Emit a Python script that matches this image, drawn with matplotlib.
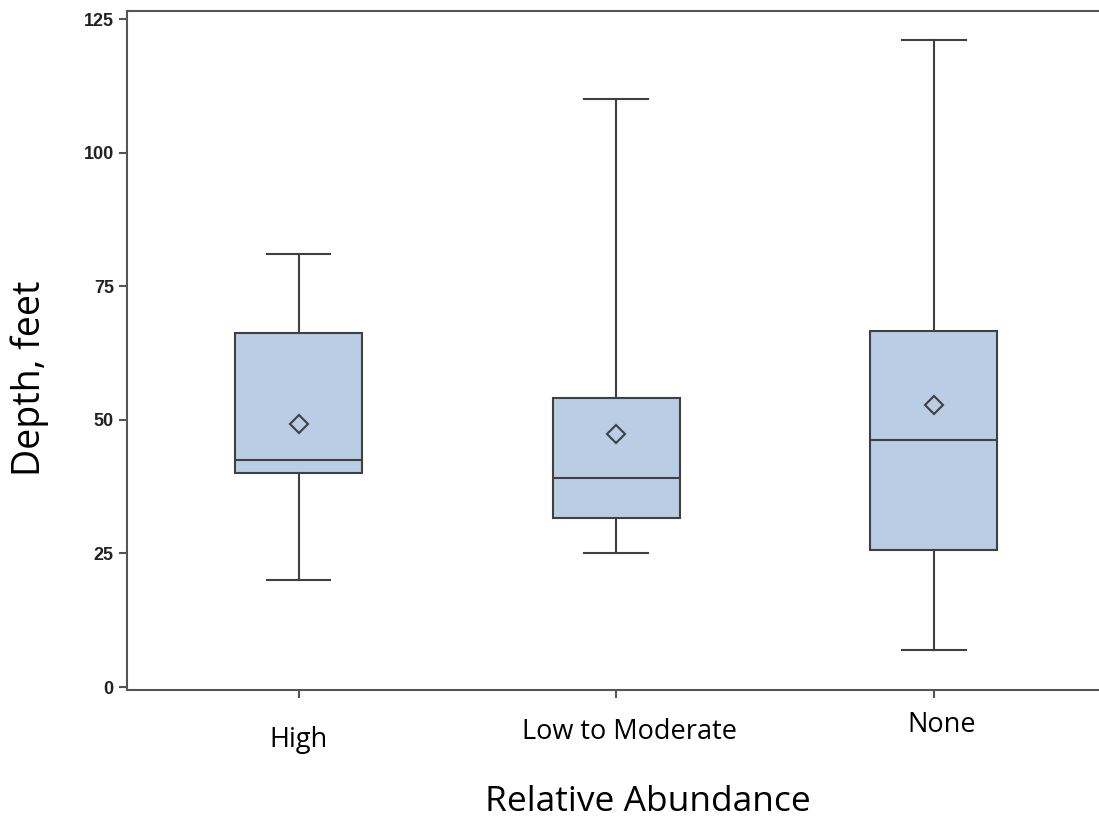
import matplotlib
matplotlib.use("Agg")
import matplotlib.pyplot as plt

categories = ["High", "Low to Moderate", "None"]
whislo = [20, 25, 7]
q1 = [40, 31.6, 25.6]
med = [42.5, 39.1, 46.2]
q3 = [66.2, 54.1, 66.6]
whishi = [81, 110, 121]
means = [49.2, 47.3, 52.8]
yticks = [0, 25, 50, 75, 100, 125]

stats = []
for i in range(len(categories)):
    stats.append({
        "label": categories[i],
        "whislo": whislo[i],
        "q1": q1[i],
        "med": med[i],
        "q3": q3[i],
        "whishi": whishi[i],
        "mean": means[i],
        "fliers": [],
    })

edge = "#404040"
fig = plt.figure(figsize=(10.99, 8.23), dpi=100)
ax = fig.add_axes([0.1156, 0.1616, 0.8844, 0.825])

ax.bxp(
    stats,
    positions=[1, 2, 3],
    widths=0.4,
    showmeans=True,
    patch_artist=True,
    boxprops=dict(facecolor="#b9cde5", edgecolor=edge, linewidth=1.5),
    medianprops=dict(color=edge, linewidth=1.5),
    whiskerprops=dict(color=edge, linewidth=1.5),
    capprops=dict(color=edge, linewidth=1.5),
    capwidths=0.2,
    meanprops=dict(marker="D", markerfacecolor="none", markeredgecolor=edge,
                   markersize=9, markeredgewidth=1.5),
)

ax.set_xlim(0.46, 3.52)
ax.set_ylim(-0.56, 126.5)
ax.set_yticks(yticks)
ax.set_yticklabels([str(v) for v in yticks], fontsize=13, fontweight="bold",
                   family="Liberation Sans", color="#222222")
ax.set_xticks([1, 2, 3])
ax.set_xticklabels([])
ax.tick_params(axis="both", direction="out", length=6, width=1.5, color="#555555")

for s in ["left", "bottom", "top"]:
    ax.spines[s].set_color("#555555")
    ax.spines[s].set_linewidth(1.5)
ax.spines["right"].set_visible(False)

# pasted-in category labels sit at slightly different heights
label_y = [740, 732, 725]
label_x = [298, 630, 942]
for i in range(len(categories)):
    fig.text(label_x[i] / 1099, 1 - label_y[i] / 823, categories[i],
             ha="center", va="center", fontsize=19.5, family="Open Sans")

fig.text(648 / 1099, 1 - 802 / 823, "Relative Abundance",
         ha="center", va="center", fontsize=25.5, family="Open Sans")
fig.text(30 / 1099, 1 - 378 / 823, "Depth, feet", rotation=90,
         ha="center", va="center", fontsize=27, family="Open Sans")

fig.savefig("out.png", dpi=100)
